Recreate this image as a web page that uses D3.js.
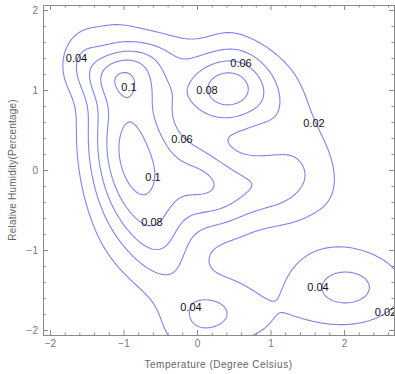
<!DOCTYPE html>
<html>
<head>
<meta charset="utf-8">
<script src="https://cdn.jsdelivr.net/npm/d3@7"></script>
<style>
  body { margin: 0; background: #fff; }
  svg { display: block; font-family: "Liberation Sans", Arial, sans-serif; }
</style>
</head>
<body>
<svg id="chart" width="395" height="374"></svg>
<script>
// ---------------------------------------------------------------------------
// Density contours: temperature vs relative humidity
// ---------------------------------------------------------------------------

// density bumps (centre, height, spread, tilt)
const peakX = [-1.038, -0.795, -1.181, 0.385, 0.124, 2.048, 0.069, 0.948, 0.968, -0.871, -0.669, 0.666, 1.536, -1.616];
const peakY = [1.100, 0.607, 0.497, 1.001, -1.844, -1.490, -0.157, -0.166, 0.902, 1.336, -0.536, -1.919, 0.638, 1.462];
const peakHeight = [0.02793, 0.06132, 0.02633, 0.08712, 0.03042, 0.04329, 0.06906, 0.04311, 0.01185, 0.02520, 0.07051, 0.01545, 0.01550, 0.02055];
const spreadX = [0.226, 0.420, 0.307, 0.417, 0.461, 0.579, 0.474, 0.442, 0.225, 0.454, 0.364, 0.489, 0.559, 0.248];
const spreadY = [0.438, 0.620, 1.036, 0.342, 0.321, 0.343, 0.355, 0.323, 1.010, 0.200, 0.722, 0.281, 1.300, 0.200];
const tilt = [-1.667, -0.045, 0.008, -0.230, 0.590, 0.014, -0.867, -0.006, 0.596, 0.255, 0.344, -0.172, 0.007, -1.885];

const levels = [0.02, 0.04, 0.06, 0.08, 0.1];

// contour labels as they sit on the chart
const labelText = ['0.04', '0.1', '0.06', '0.08', '0.02', '0.06', '0.1', '0.08', '0.04', '0.04', '0.02'];
const labelX = [-1.639, -0.925, 0.599, 0.136, 1.592, -0.204, -0.599, -0.612, -0.082, 1.646, 2.565];
const labelY = [1.394, 1.0375, 1.3375, 1.0, 0.5875, 0.3875, -0.0875, -0.65, -1.7125, -1.4625, -1.775];

const xTicks = [-2, -1, 0, 1, 2];
const yTicks = [-2, -1, 0, 1, 2];
const xDomain = [-2.095, 2.68];
const yDomain = [-2.0625, 2.0625];

const width = 395, height = 374;
const margin = { left: 43, right: 1, top: 5, bottom: 39 };

const svg = d3.select('#chart');

const x = d3.scaleLinear().domain(xDomain).range([margin.left, width - margin.right]);
const y = d3.scaleLinear().domain(yDomain).range([height - margin.bottom, margin.top]);

const density = (px, py) => {
  let sum = 0;
  for (let k = 0; k < peakX.length; k++) {
    const c = Math.cos(tilt[k]), s = Math.sin(tilt[k]);
    const dx = px - peakX[k], dy = py - peakY[k];
    const u = (dx * c + dy * s) / spreadX[k];
    const v = (-dx * s + dy * c) / spreadY[k];
    sum += peakHeight[k] * Math.exp(-(u * u + v * v) / 2);
  }
  return sum;
};

// sample on a grid a bit larger than the frame, then clip
const x0 = -2.5, y0 = -2.5, step = 0.02, nx = 276, ny = 251;
const grid = new Float64Array(nx * ny);
for (let j = 0; j < ny; j++) {
  for (let i = 0; i < nx; i++) grid[j * nx + i] = density(x0 + i * step, y0 + j * step);
}
const contours = d3.contours().size([nx, ny]).thresholds(levels)(grid);
const toScreen = d3.geoTransform({
  point(gx, gy) { this.stream.point(x(x0 + gx * step), y(y0 + gy * step)); },
});

const plotW = width - margin.left - margin.right;
const plotH = height - margin.top - margin.bottom;

svg.append('clipPath').attr('id', 'plot-clip')
  .append('rect')
  .attr('x', margin.left).attr('y', margin.top)
  .attr('width', plotW).attr('height', plotH);

const plot = svg.append('g').attr('clip-path', 'url(#plot-clip)');

plot.selectAll('path')
  .data(contours)
  .join('path')
  .attr('d', d3.geoPath(toScreen))
  .attr('fill', 'none')
  .attr('stroke', '#8282f5')
  .attr('stroke-width', 1.1);

plot.selectAll('text.label')
  .data(labelText)
  .join('text')
  .attr('class', 'label')
  .attr('x', (d, i) => x(labelX[i]))
  .attr('y', (d, i) => y(labelY[i]))
  .attr('dy', '0.35em')
  .attr('text-anchor', 'middle')
  .style('font-size', '11px')
  .style('fill', '#111')
  .text((d) => d);

// Frame with inward ticks on all four sides
const minorX = d3.range(-2, 2.7, 0.2).filter((v) => Math.abs(v - Math.round(v)) > 1e-6);
const minorY = d3.range(-2, 2.1, 0.2).filter((v) => Math.abs(v - Math.round(v)) > 1e-6);
const fmt = d3.format('d');

const frame = (axis, tx, ty, ticks, minor, labels) => {
  const g = svg.append('g').attr('transform', `translate(${tx},${ty})`);
  g.call(axis.tickValues(ticks).tickSize(-5).tickPadding(5).tickFormat(labels ? fmt : ''));
  const m = svg.append('g').attr('transform', `translate(${tx},${ty})`);
  m.call(axis.tickValues(minor).tickSize(-2.5).tickFormat(''));
  m.select('.domain').remove();
  [g, m].forEach((s) => {
    s.selectAll('line, .domain').attr('stroke', '#8a8a8a');
    s.selectAll('text')
      .style('font-size', '10px')
      .style('fill', '#777')
      .style('font-family', '"Liberation Sans", Arial, sans-serif');
  });
};

frame(d3.axisBottom(x), 0, height - margin.bottom, xTicks, minorX, true);
frame(d3.axisLeft(y), margin.left, 0, yTicks, minorY, true);
frame(d3.axisTop(x), 0, margin.top, xTicks, minorX, false);
frame(d3.axisRight(y), width - margin.right, 0, yTicks, minorY, false);

// Axis titles
svg.append('text')
  .attr('x', margin.left + plotW / 2)
  .attr('y', height - 6)
  .attr('text-anchor', 'middle')
  .style('font-size', '10px')
  .style('letter-spacing', '0.5px')
  .style('fill', '#666')
  .text('Temperature (Degree Celsius)');

svg.append('text')
  .attr('transform', `translate(16,${margin.top + plotH / 2}) rotate(-90)`)
  .attr('text-anchor', 'middle')
  .style('font-size', '10px')
  .style('letter-spacing', '0.2px')
  .style('fill', '#666')
  .text('Relative Humidity(Percentage)');
</script>
</body>
</html>
